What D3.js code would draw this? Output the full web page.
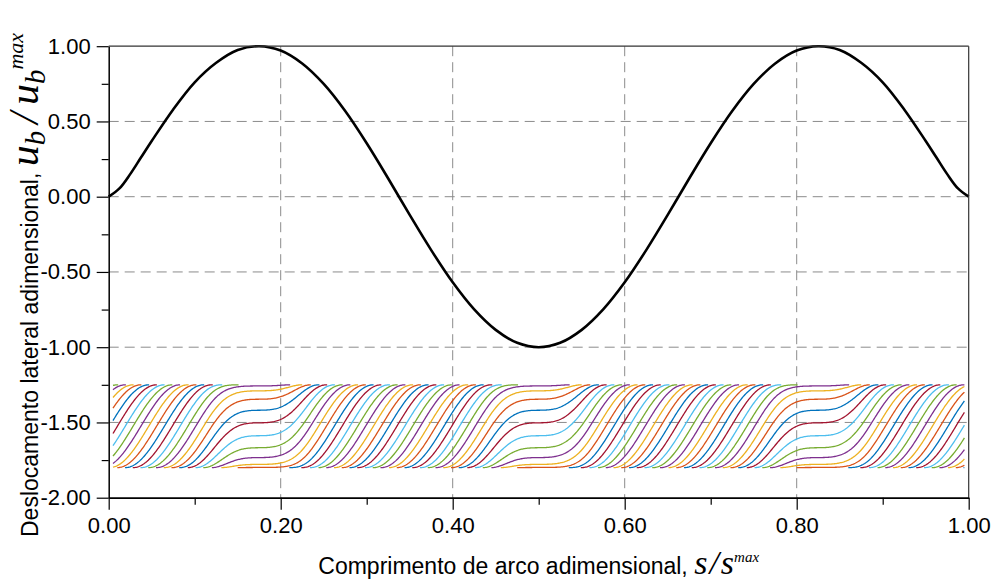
<!DOCTYPE html>
<html>
<head>
<meta charset="utf-8">
<script src="https://cdn.jsdelivr.net/npm/d3@7"></script>
<style>
  body { margin: 0; background: #fff; }
  svg { display: block; }
</style>
</head>
<body>
<script>
// lateral displacement of the rod (black curve)
const curveS = [0, 0.0125, 0.025, 0.0375, 0.05, 0.075, 0.1, 0.125, 0.15, 0.175, 0.2, 0.225,
  0.25, 0.275, 0.3, 0.325, 0.35, 0.375, 0.4, 0.425, 0.45, 0.475,
  0.5, 0.525, 0.55, 0.575, 0.6, 0.625, 0.65, 0.675, 0.7, 0.725,
  0.75, 0.775, 0.8, 0.825, 0.85, 0.875, 0.9, 0.925, 0.95, 0.9625, 0.975, 0.9875, 1];
const curveU = [0, 0.055, 0.15, 0.26, 0.37, 0.58, 0.76, 0.89, 0.975, 1.0, 0.971, 0.885,
  0.749, 0.569, 0.355, 0.121, -0.121, -0.355, -0.569, -0.749, -0.885, -0.971,
  -1.0, -0.971, -0.885, -0.749, -0.569, -0.355, -0.121, 0.121, 0.355, 0.569,
  0.749, 0.885, 0.971, 1.0, 0.975, 0.89, 0.76, 0.58, 0.37, 0.26, 0.15, 0.055, 0];

// twist angle of the stripes (deg), read every 0.0125 of s from 0 to 1
const twistDeg = [
  -380, -355.3, -330.6, -305.9, -281.2, -256.5, -231.8, -207.1, -182.4, -157.6,
  -134.6, -117.0, -106.9, -103.5, -103.3, -103.1, -99.6, -89.6, -72.0, -48.9,
  -24.2, 0.5, 25.2, 49.9, 74.6, 99.3, 124.0, 148.7, 173.4, 198.1,
  222.8, 247.5, 272.2, 297.0, 321.7, 346.4, 369.4, 387.0, 397.1, 400.5,
  400.7, 400.9, 404.4, 414.5, 432.0, 455.1, 479.8, 504.5, 529.2, 553.9,
  578.6, 603.3, 628.0, 652.7, 677.4, 702.1, 726.8, 751.5, 776.3, 801.0,
  825.7, 850.4, 873.5, 891.0, 901.1, 904.5, 904.7, 904.9, 908.4, 918.5,
  936.0, 959.1, 983.8, 1008.5, 1033.2, 1057.9, 1082.6, 1107.3, 1132.0, 1156.7,
  1181.4];

const stripeColors = ["#0072BD", "#D95319", "#EDB120", "#7E2F8E", "#77AC30", "#4DBEEE", "#A2142F"];
const stripeStep = 18;          // deg between two neighbour stripes
const bandCenter = -1.525;
const bandRadius = 0.275;
const bandRange = [0.005, 0.995];

const xMajor = [0, 0.2, 0.4, 0.6, 0.8, 1];
const xMinor = [0.1, 0.3, 0.5, 0.7, 0.9];
const yMajor = [1, 0.5, 0, -0.5, -1, -1.5, -2];
const yMinor = [0.75, 0.25, -0.25, -0.75, -1.25, -1.75];
const xGrid = [0.2, 0.4, 0.6, 0.8];
const yGrid = [0.5, 0, -0.5, -1, -1.5];

const width = 993, height = 582;
const x = d3.scaleLinear().domain([0, 1]).range([108.7, 968.7]);
const y = d3.scaleLinear().domain([-2, 1]).range([497.7, 46.2]);

const svg = d3.select("body").append("svg")
  .attr("width", width)
  .attr("height", height)
  .style("font-family", "'Liberation Sans', Arial, sans-serif");

// dashed grid
svg.append("g")
  .selectAll("line")
  .data(xGrid)
  .join("line")
  .attr("x1", d => x(d)).attr("x2", d => x(d))
  .attr("y1", y(1)).attr("y2", y(-2))
  .attr("stroke", "#8c8c8c")
  .attr("stroke-dasharray", "10,6");

svg.append("g")
  .selectAll("line")
  .data(yGrid)
  .join("line")
  .attr("x1", x(0)).attr("x2", x(1))
  .attr("y1", d => y(d)).attr("y2", d => y(d))
  .attr("stroke", "#8c8c8c")
  .attr("stroke-dasharray", "10,6");

// stripes of the twisted band
const twistAt = d3.interpolateBasis(twistDeg);
const tMin = d3.min(twistDeg), tMax = d3.max(twistDeg);
const stripeIds = d3.range(Math.ceil((-90 - tMax) / stripeStep), Math.floor((90 - tMin) / stripeStep) + 1);
const sGrid = d3.range(bandRange[0], bandRange[1] + 1e-9, 0.001);
const sGridTwist = sGrid.map(s => twistAt(s));

const stripes = stripeIds.map(i => {
  const th = sGridTwist.map(t => t + i * stripeStep);
  const pts = [];
  for (let k = 0; k < th.length; k++) {
    const t = th[k];
    const inside = t >= -90 && t <= 90;
    const enter = t < -90 && k + 1 < th.length && th[k + 1] >= -90;
    const leave = t > 90 && k > 0 && th[k - 1] <= 90;
    if (inside || enter || leave) pts.push({ s: sGrid[k], th: Math.max(-90, Math.min(90, t)) });
  }
  return { i, pts };
}).filter(d => d.pts.length > 1);

const stripeLine = d3.line()
  .x(d => x(d.s))
  .y(d => y(bandCenter + bandRadius * Math.sin(d.th * Math.PI / 180)));

svg.append("g")
  .attr("fill", "none")
  .attr("stroke-width", 1.3)
  .selectAll("path")
  .data(stripes)
  .join("path")
  .attr("stroke", d => stripeColors[((d.i % 7) + 7) % 7])
  .attr("d", d => stripeLine(d.pts));

// displacement curve
const disp = curveS.map((s, k) => ({ s, u: curveU[k] }));
svg.append("path")
  .datum(disp)
  .attr("fill", "none")
  .attr("stroke", "#000")
  .attr("stroke-width", 2.6)
  .attr("d", d3.line().x(d => x(d.s)).y(d => y(d.u)).curve(d3.curveCatmullRom));

// frame top / right
svg.append("line")
  .attr("x1", x(0)).attr("x2", x(1)).attr("y1", y(1)).attr("y2", y(1))
  .attr("stroke", "#333").attr("stroke-width", 1.2);
svg.append("line")
  .attr("x1", x(1)).attr("x2", x(1)).attr("y1", y(1)).attr("y2", y(-2))
  .attr("stroke", "#333").attr("stroke-width", 1.2);

// axes
const fmt = d => d.toFixed(2);

const gx = svg.append("g").attr("transform", `translate(0,${y(-2)})`)
  .call(d3.axisBottom(x).tickValues(xMajor).tickFormat(fmt).tickSize(12).tickPadding(8).tickSizeOuter(0));
svg.append("g").attr("transform", `translate(0,${y(-2)})`)
  .call(d3.axisBottom(x).tickValues(xMinor).tickFormat("").tickSize(7))
  .call(g => g.select(".domain").remove());

const gy = svg.append("g").attr("transform", `translate(${x(0)},0)`)
  .call(d3.axisLeft(y).tickValues(yMajor).tickFormat(fmt).tickSize(12).tickPadding(6).tickSizeOuter(0));
svg.append("g").attr("transform", `translate(${x(0)},0)`)
  .call(d3.axisLeft(y).tickValues(yMinor).tickFormat("").tickSize(7))
  .call(g => g.select(".domain").remove());

svg.selectAll(".tick text")
  .attr("fill", "#000")
  .style("font-size", "22px")
  .style("font-family", "'Liberation Sans', Arial, sans-serif");
svg.selectAll(".tick line").attr("stroke", "#000").attr("stroke-width", 1.2);
gx.select(".domain").attr("stroke", "#000").attr("stroke-width", 1.8);
gy.select(".domain").attr("stroke", "#000").attr("stroke-width", 1.5);

// axis titles
const mathFont = "'Liberation Serif', 'Times New Roman', serif";

const xTitle = svg.append("text")
  .attr("x", (x(0) + x(1)) / 2)
  .attr("y", 574)
  .attr("text-anchor", "middle")
  .style("font-size", "23px");
xTitle.append("tspan").text("Comprimento de arco adimensional, ");
xTitle.append("tspan").style("font-family", mathFont).style("font-style", "italic").style("font-size", "34px").text("s");
xTitle.append("tspan").style("font-family", mathFont).style("font-style", "italic").style("font-size", "34px").attr("dx", 2).text("/");
xTitle.append("tspan").style("font-family", mathFont).style("font-style", "italic").style("font-size", "34px").attr("dx", 2).text("s");
xTitle.append("tspan").style("font-family", mathFont).style("font-style", "italic").style("font-size", "15px").attr("dy", -12).text("max");

const yTitle = svg.append("text")
  .attr("transform", "translate(38,537) rotate(-90)")
  .attr("text-anchor", "start")
  .style("font-size", "23px");
yTitle.append("tspan").text("Deslocamento lateral adimensional, ");
yTitle.append("tspan").style("font-family", mathFont).style("font-style", "italic").style("font-size", "42px").text("u");
yTitle.append("tspan").style("font-family", mathFont).style("font-style", "italic").style("font-size", "29px").attr("dy", 7).text("b");
yTitle.append("tspan").style("font-family", mathFont).style("font-style", "italic").style("font-size", "42px").attr("dy", -7).attr("dx", 7).text("/");
yTitle.append("tspan").style("font-family", mathFont).style("font-style", "italic").style("font-size", "42px").attr("dx", 7).text("u");
yTitle.append("tspan").style("font-family", mathFont).style("font-style", "italic").style("font-size", "29px").attr("dy", 7).text("b");
yTitle.append("tspan").style("font-family", mathFont).style("font-style", "italic").style("font-size", "22px").attr("dy", -22).text("max");
</script>
</body>
</html>
